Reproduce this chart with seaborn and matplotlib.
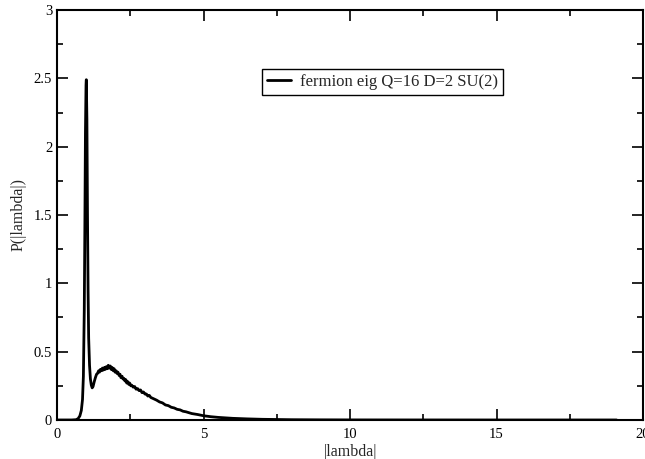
import numpy as np
import pandas as pd
import seaborn as sns
import matplotlib.pyplot as plt
from matplotlib.ticker import MultipleLocator

lam = [0.0, 0.5, 0.65, 0.72, 0.78, 0.83, 0.87, 0.90, 0.93, 0.95, 0.97, 0.99, 1.00,
       1.02, 1.04, 1.06, 1.08, 1.11, 1.14, 1.17, 1.20, 1.23, 1.27, 1.31, 1.35,
       1.38, 1.42, 1.45, 1.48, 1.52, 1.55, 1.58, 1.62, 1.65, 1.68, 1.72, 1.75,
       1.78, 1.82, 1.85, 1.88, 1.92, 1.95, 1.98, 2.02, 2.05, 2.08, 2.12, 2.15,
       2.18, 2.22, 2.25, 2.28, 2.32, 2.35, 2.38, 2.42, 2.45, 2.48, 2.52, 2.55,
       2.60, 2.65, 2.70, 2.75, 2.80, 2.85, 2.90, 2.95, 3.00, 3.05, 3.10, 3.15,
       3.20, 3.30, 3.40, 3.50, 3.60, 3.70, 3.80, 3.90, 4.00, 4.10, 4.20, 4.30,
       4.40, 4.60, 4.80, 5.00, 5.25, 5.50, 6.00, 6.50, 7.00, 8.00, 9.00, 10.0,
       12.0, 15.0, 19.1]
prob = [0.0, 0.0, 0.002, 0.01, 0.03, 0.07, 0.15, 0.32, 0.80, 1.40, 2.10, 2.45, 2.49,
        2.20, 1.50, 0.95, 0.60, 0.40, 0.30, 0.255, 0.235, 0.245, 0.28, 0.31, 0.335,
        0.34, 0.36, 0.35, 0.37, 0.36, 0.38, 0.365, 0.385, 0.37, 0.39, 0.375, 0.40,
        0.38, 0.395, 0.37, 0.385, 0.36, 0.375, 0.35, 0.36, 0.34, 0.35, 0.325, 0.335,
        0.31, 0.32, 0.30, 0.305, 0.285, 0.295, 0.27, 0.28, 0.26, 0.27, 0.25, 0.255,
        0.24, 0.245, 0.225, 0.23, 0.215, 0.22, 0.20, 0.205, 0.19, 0.19, 0.175, 0.18,
        0.165, 0.155, 0.145, 0.132, 0.125, 0.11, 0.105, 0.093, 0.088, 0.078, 0.074, 0.064,
        0.06, 0.047, 0.04, 0.031, 0.024, 0.019, 0.012, 0.008, 0.005, 0.002, 0.001, 0.0005,
        0.0002, 0.0, 0.0]
series_name = "fermion eig Q=16 D=2 SU(2)"

df = pd.DataFrame({"lam": lam, "p": prob, "series": series_name})

sns.set_style("ticks")
plt.rcParams["font.family"] = ["Liberation Serif", "DejaVu Serif"]

fig = plt.figure(figsize=(6.45, 4.59), dpi=100)
ax = fig.add_axes([0.0884, 0.085, 0.9085, 0.8932])

sns.lineplot(data=df, x="lam", y="p", hue="series", palette=["black"],
             linewidth=2.0, ax=ax, legend=True)

ax.set_xlim(0, 20)
ax.set_ylim(0, 3)
ax.xaxis.set_major_locator(MultipleLocator(5))
ax.xaxis.set_minor_locator(MultipleLocator(2.5))
ax.yaxis.set_major_locator(MultipleLocator(0.5))
ax.yaxis.set_minor_locator(MultipleLocator(0.25))
ax.xaxis.set_major_formatter(plt.FuncFormatter(lambda v, p: f"{v:g}"))
ax.yaxis.set_major_formatter(plt.FuncFormatter(lambda v, p: f"{v:g}"))
ax.tick_params(which="both", direction="in", top=True, right=True,
               width=1.2, labelsize=10.5, colors="black")
ax.tick_params(which="major", length=8)
ax.tick_params(which="minor", length=4)
ax.tick_params(axis="x", which="major", pad=6)
for s in ax.spines.values():
    s.set_visible(True)
    s.set_linewidth(1.5)
    s.set_color("black")

ax.set_xlabel("|lambda|", fontsize=11.5, labelpad=2)
ax.set_ylabel("P(|lambda|)", fontsize=11.5, labelpad=5)

leg = ax.legend(loc="upper left", bbox_to_anchor=(0.35, 0.856), frameon=True,
                fancybox=False, edgecolor="black", fontsize=12, handlelength=1.45,
                borderpad=0.3, handletextpad=0.5, borderaxespad=0)
leg.get_frame().set_linewidth(1.0)
leg.get_frame().set_alpha(1)

fig.savefig("out.png", dpi=100)
